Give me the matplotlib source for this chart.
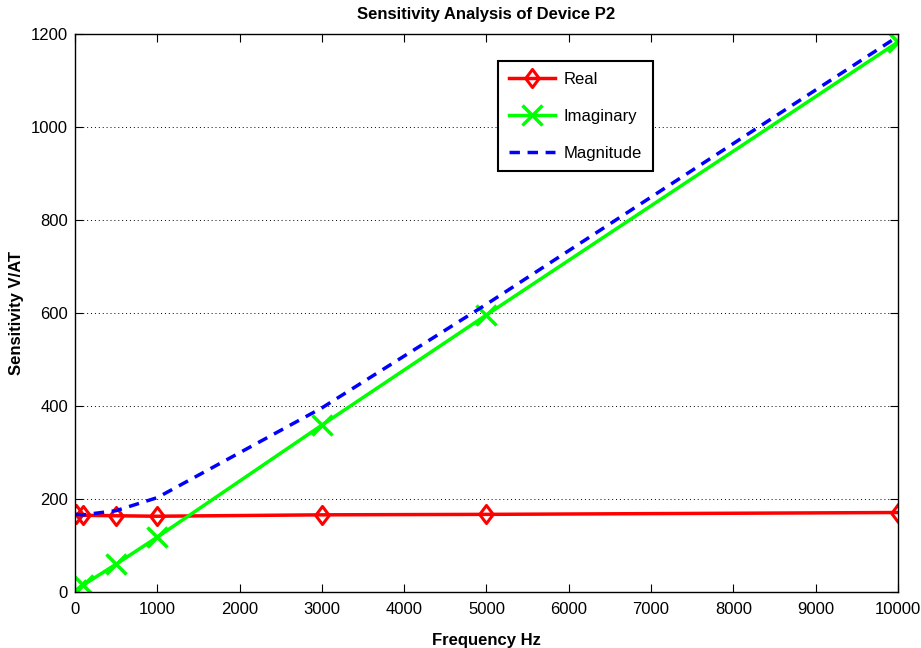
import matplotlib
matplotlib.use('Agg')
import matplotlib.pyplot as plt
from matplotlib.path import Path
import numpy as np

plt.rcParams['font.family'] = ['Liberation Sans', 'DejaVu Sans']

# frequency points (Hz)
freq = [10, 100, 500, 1000, 3000, 5000, 10000]
# sensitivity values (V/AT)
real_part = [167, 165, 164, 163, 166, 167, 171]
imag_part = [4, 15, 60, 118, 359, 596, 1183]
magnitude = [167, 166, 175, 203, 396, 619, 1195]

# matlab-like diamond, a bit taller than wide
diamond = Path([(0, 1), (0.75, 0), (0, -1), (-0.75, 0), (0, 1)],
               [Path.MOVETO, Path.LINETO, Path.LINETO, Path.LINETO, Path.CLOSEPOLY])

fig = plt.figure(figsize=(9.21, 6.48), dpi=100)
ax = fig.add_axes([0.0814, 0.0864, 0.8936, 0.861])

ax.plot(freq, real_part, color='red', lw=2.5, marker=diamond, ms=13,
        mfc='none', mew=2.2, label='Real')
ax.plot(freq, imag_part, color='#00ff00', lw=2.5, marker='x', ms=14,
        mew=2.5, label='Imaginary')
ax.plot(freq, magnitude, color='blue', lw=2.5, ls=(0, (3, 2.2)),
        label='Magnitude')

ax.set_xlim(0, 10000)
ax.set_ylim(0, 1200)
ax.set_xticks(np.arange(0, 10001, 1000))
ax.set_yticks(np.arange(0, 1201, 200))
ax.yaxis.grid(True, ls=(0, (1, 3)), color='black', lw=0.7)
ax.tick_params(direction='in', top=True, right=True, labelsize=12, length=6)
ax.tick_params(axis='x', pad=7)
ax.tick_params(axis='y', pad=5)
for s in ax.spines.values():
    s.set_linewidth(1.0)

ax.set_title('Sensitivity Analysis of Device P2', fontsize=12, fontweight='bold', pad=11)
ax.set_xlabel('Frequency Hz', fontsize=12, fontweight='bold', labelpad=12)
ax.set_ylabel('Sensitivity V/AT', fontsize=12, fontweight='bold', labelpad=5)

leg = ax.legend(loc='upper left', bbox_to_anchor=(0.514, 0.951), fontsize=12,
                fancybox=False, edgecolor='black', framealpha=1,
                handlelength=2.8, handletextpad=0.5, borderpad=0.65,
                labelspacing=1.3, borderaxespad=0)
leg.get_frame().set_linewidth(1.5)

fig.savefig('out.png')
